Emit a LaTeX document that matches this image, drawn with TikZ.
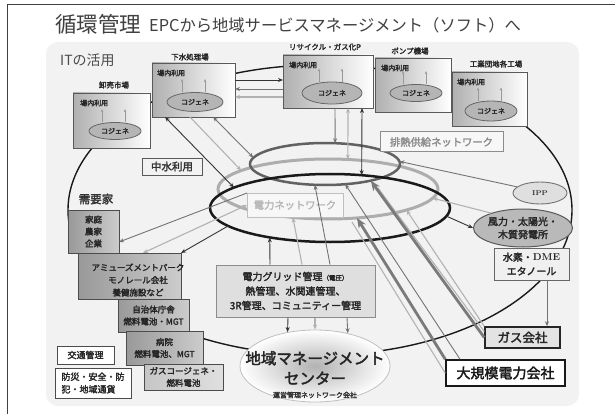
\documentclass[tikz,border=0pt]{standalone}
\usepackage{fontspec}
\newfontfamily\jp[AutoFakeBold=2.4]{Noto Sans CJK JP}
\usetikzlibrary{arrows.meta,shapes.geometric}
\newcommand\fsz[2]{\fontsize{#1}{#2}\selectfont}
\tikzset{
  dk/.style={draw=black!80, line width=0.9pt},
  md/.style={draw=black!55, line width=0.9pt},
  lt/.style={draw=black!30, line width=1.1pt},
  thk/.style={draw=black!52, line width=2.8pt},
  ar/.style={-{Stealth[length=5pt,width=4pt]}},
  ra/.style={{Stealth[length=5pt,width=4pt]}-},
  br/.style={{Stealth[length=5pt,width=4pt]}-{Stealth[length=5pt,width=4pt]}},
  arbig/.style={-{Stealth[length=10pt,width=8pt]}},
  inar/.style={draw=black!40, line width=0.6pt, -{Stealth[length=3pt,width=2.5pt]}},
  ring/.style={ellipse, inner sep=0pt, outer sep=0pt},
  site/.style={draw=black!65, line width=0.9pt, left color=gray!62, right color=white, inner sep=0pt, outer sep=0pt},
  lbl/.style={font=\jp\bfseries\fsz{7.5}{8}, text=black!85, inner sep=0pt},
  inl/.style={font=\jp\bfseries\fsz{7}{7}, text=black!85, inner sep=0pt, anchor=west},
  cog/.style={ellipse, fill=gray!58, draw=black!60, line width=0.8pt, inner sep=0pt, font=\jp\bfseries\fsz{7}{7}, text=black!85},
  dem/.style={draw=black!70, line width=0.9pt, left color=gray!80, right color=gray!40, inner sep=0pt, outer sep=0pt, align=center, font=\jp\bfseries\fsz{8.5}{12}, text=black!85},
  wbox/.style={fill=white, draw=black!70, line width=0.9pt, inner sep=0pt, outer sep=0pt, font=\jp\bfseries\fsz{9}{12.5}, text=black!85},
  netbox/.style={inner sep=0pt, outer sep=0pt, line width=1pt, font=\jp\bfseries\fsz{10.3}{11}}
}
\begin{document}
\begin{tikzpicture}[x=1pt,y=-1pt,font=\jp]
\useasboundingbox (0,0) rectangle (615,414);
\fill[white] (0,0) rectangle (615,414);
\draw[black!75,line width=1pt] (7,414) -- (7,4.5) -- (615,4.5);
\fill[gray!10, rounded corners=12pt] (46,42) rectangle (579,406);

% titles
\node[anchor=west, font=\jp\fsz{21.5}{22}, text=black!75, inner sep=0pt] (title) at (55,24) {循環管理};
\node[anchor=west, font=\jp\fsz{16.3}{17}, text=black!75, inner sep=0pt] (sub) at (149,25) {EPCから地域サービスマネージメント（ソフト）へ};
\node[anchor=west, font=\jp\fsz{14}{14}, text=black!70, inner sep=0pt] (it) at (60,60) {ITの活用};

% outer ellipse
\node[ring, draw=black!90, line width=1.4pt, minimum width=504pt, minimum height=290pt] (outer) at (320,210) {};

% rings
\node[ring, draw=black!32, line width=3pt, minimum width=220pt, minimum height=60pt] (lring) at (328,189) {};
\node[ring, draw=black!62, line width=2.5pt, minimum width=150pt, minimum height=42pt] (uring) at (325,164) {};
\node[ring, draw=black!90, line width=2.5pt, minimum width=240pt, minimum height=68pt] (bring) at (330,208) {};

% network label boxes
\node[netbox, draw=black!25, fill=gray!6, text=black!28, minimum width=96pt, minimum height=24pt] (pnet) at (295,205) {電力ネットワーク};
\node[netbox, draw=black!45, fill=gray!6, text=black!45, minimum width=123pt, minimum height=20pt] (haine) at (441.5,142) {排熱供給ネットワーク};

% site boxes
\node[site, minimum width=77pt, minimum height=55pt] (oroshi) at (111.5,120.5) {};
\node[site, minimum width=83pt, minimum height=54pt] (gesui) at (193.5,90) {};
\node[site, minimum width=90pt, minimum height=53pt] (rec) at (328,81.5) {};
\node[site, minimum width=76pt, minimum height=54pt] (pump) at (413,85) {};
\node[site, minimum width=75pt, minimum height=54pt] (kogyo) at (489.5,99) {};

\node[lbl] (l1) at (114,85) {卸売市場};
\node[lbl] (l2) at (190,57) {下水処理場};
\node[lbl] (l3) at (325,47) {リサイクル・ガス化P};
\node[lbl] (l4) at (410,51) {ポンプ機場};
\node[lbl] (l5) at (496,64) {工業団地各工場};

\node[inl] (u1) at (80,103) {場内利用};
\node[inl] (u2) at (157,73) {場内利用};
\node[inl] (u3) at (289,65) {場内利用};
\node[inl] (u4) at (381,68) {場内利用};
\node[inl] (u5) at (457,82) {場内利用};

\node[cog, minimum width=52pt, minimum height=17pt] (cg1) at (115,131) {コジェネ};
\node[cog, minimum width=56pt, minimum height=19pt] (cg2) at (195,102) {コジェネ};
\node[cog, minimum width=60pt, minimum height=22pt] (cg3) at (332,93) {コジェネ};
\node[cog, minimum width=52pt, minimum height=17pt] (cg4) at (416,93) {コジェネ};
\node[cog, minimum width=52pt, minimum height=20pt] (cg5) at (491,111) {コジェネ};

\foreach \c in {cg1,cg2,cg3,cg4,cg5}{
  \draw[inar] ([xshift=-13pt]\c.north) -- ++(0,-13);
  \draw[inar] ([xshift=10pt]\c.north) -- ++(0,-13);
}

% right side nodes
\node[ellipse, fill=gray!25, draw=black!55, line width=0.9pt, minimum width=54pt, minimum height=22pt, inner sep=0pt, font=\rmfamily\bfseries\fsz{7}{7}, text=black!80] (ipp) at (540,193) {IPP};
\node[ellipse, fill=gray!55, draw=black!65, line width=1pt, minimum width=92pt, minimum height=38pt, inner sep=0pt, align=center, font=\jp\bfseries\fsz{10}{13}, text=black!85] (wind) at (523,228) {風力・太陽光・\\木質発電所};
\node[draw=black!60, line width=0.9pt, fill=gray!12, minimum width=75pt, minimum height=32pt, inner sep=0pt, align=center, font=\jp\bfseries\fsz{10}{14}, text=black!85] (h2) at (531.5,264) {水素・{\rmfamily\bfseries DME}\\エタノール};
\node[draw=black!85, line width=1.5pt, fill=gray!22, minimum width=75pt, minimum height=21pt, inner sep=0pt, font=\jp\bfseries\fsz{12.5}{13}, text=black!85] (gas) at (522.5,337.5) {ガス会社};
\node[draw=black!90, line width=1.5pt, fill=white, minimum width=119pt, minimum height=26pt, inner sep=0pt, font=\jp\bfseries\fsz{14}{14}, text=black!90] (big) at (505.5,373) {大規模電力会社};

% grid box and management centre
\node[draw=black!45, line width=1pt, fill=gray!25, minimum width=159pt, minimum height=52pt, inner sep=0pt, align=center, font=\jp\bfseries\fsz{10}{14.5}, text=black!85] (grid) at (295.5,291) {電力グリッド管理{\fsz{6.5}{6.5}（電圧）}\\熱管理、水関連管理、\\3R管理、コミュニティー管理};
\node[ellipse, draw=black!25, line width=0.8pt, inner color=gray!60, outer color=white, minimum width=150pt, minimum height=72pt, inner sep=0pt] (mc) at (315,366) {};
\node[font=\jp\bfseries\fsz{15.5}{20}, align=center, text=black!85, inner sep=0pt] (mct) at (315,368) {地域マネージメント\\センター};
\node[font=\jp\bfseries\fsz{7}{7}, text=black!80, inner sep=0pt] (mcs) at (315,395) {運営管理ネットワーク会社};

% left column
\node[font=\jp\bfseries\fsz{11.5}{12}, text=black!80, inner sep=0pt] (juyo) at (96,199) {需要家};
\node[dem, minimum width=51pt, minimum height=43pt] (katei) at (93.5,231.5) {家庭\\農家\\企業};
\node[dem, minimum width=103pt, minimum height=46pt] (amuse) at (129.5,276) {};
\node[align=center, font=\jp\bfseries\fsz{8.5}{12.5}, text=black!85, inner sep=0pt] (amuset) at (138,280) {アミューズメントパーク\\モノレール会社\\養健施設など};
\node[dem, minimum width=71pt, minimum height=33pt] (jichi) at (153.5,315.5) {自治体庁舎\\燃料電池・MGT};
\node[dem, minimum width=77pt, minimum height=34pt] (byoin) at (164.5,348) {病院\\燃料電池、MGT};
\node[dem, left color=gray!45, right color=gray!25, minimum width=79pt, minimum height=26pt] (gascg) at (183.5,377) {ガスコージェネ・\\燃料電池};
\node[wbox, minimum width=57pt, minimum height=18pt] (kotsu) at (85.5,355) {交通管理};
\node[wbox, minimum width=76pt, minimum height=30pt, align=left] (bosai) at (93,383) {防災・安全・防\\犯・地域通貨};

% connectors: sewage plant
\draw[dk,br] (gesui.south -| 165,0) -- (bring.168);
\draw[lt,ar] (gesui.south -| 190,0) -- (lring.168);
\draw[md,br] (gesui.south -| 213,0) -- (uring.175);
\draw[dk,ar] (gesui.east |- 0,80) -- (rec.west |- 0,80);
\draw[md,ra] (gesui.east |- 0,89) -- (rec.west |- 0,89);
\draw[lt,ra] (gesui.east |- 0,97) -- (rec.west |- 0,97);

% recycling plant
\draw[md,ar] (rec.south -| 335,0) -- (uring.64);
\draw[lt,br] (rec.south -| 348,0) -- (lring.56);
\draw[dk,br] (rec.south -| 362,0) -- (bring.46);

% right side
\draw[md,ar] (ipp.165) -- (uring.2);
\draw[lt,ar] (wind.155) -- (lring.-5);
\draw[dk,ar] (bring.-4) -- (wind.west);
\draw[md,ar] (h2.south -| 547,0) -- (gas.north -| 547,0);

% grid box
\draw[dk,ar] (grid.north -| 270,0) -- (bring.206);
\draw[lt,ar] (grid.north -| 302,0) -- (lring.219);
\draw[md,ar] (grid.north -| 330,0) -- (uring.244);
\draw[dk,ar] (grid.south -| 288,0) -- (mc.129);
\draw[lt,ar] (grid.south -| 315,0) -- (mc.north);
\draw[md,ar] (grid.south -| 347,0) -- (mc.45);

% companies
\coordinate (c2e) at (378,188);
\coordinate (e2e) at (352,222);
\draw[md,ar] (big.north -| 460,0) -- (uring.-45);
\draw[lt] ([yshift=6pt]gas.west) -- (c2e);
\draw[thk,arbig] (gas.west) -- (uring.-20);
\draw[lt,ar] (gas.north west) -- (lring.-15);
\draw[lt] (big.west) -- (e2e);
\draw[thk,arbig] (big.north west) -- (lring.-45);

% consumers
\draw[md,ar] (pnet.north west) -- (katei.east |- 0,242);
\draw[lt,br] (pnet.west) -- (amuse.north -| 143,0);
\draw[dk,ar] (bring.190) -- (amuse.north east);

\node[draw=black!65, line width=0.9pt, fill=gray!10, inner sep=0pt, minimum width=60pt, minimum height=17pt, font=\jp\bfseries\fsz{10.5}{11}, text=black!80] (chusui) at (172,166.5) {中水利用};
\end{tikzpicture}
\end{document}
